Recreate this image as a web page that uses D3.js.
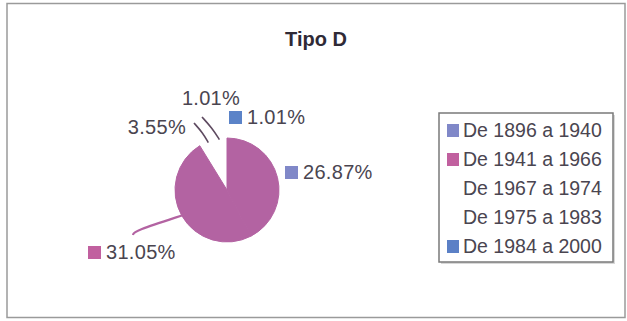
<!DOCTYPE html>
<html><head><meta charset="utf-8">
<script src="https://cdn.jsdelivr.net/npm/d3@7"></script>
<style>
html,body{margin:0;padding:0;background:#fff;}
text{font-family:"Liberation Sans",Arial,sans-serif;}
</style></head>
<body><svg id="c" width="627" height="321"></svg>
<script>
// ---- data ----
const title = "Tipo D";
const categories = ["De 1896 a 1940","De 1941 a 1966","De 1967 a 1974","De 1975 a 1983","De 1984 a 2000"];
const values = [26.87, 31.05, 3.55, 1.01, 1.01];
const labels = ["26.87%","31.05%","3.55%","1.01%","1.01%"];

// ---- styles (as seen in the scanned picture) ----
const sliceFill  = ["#b363a2","#b363a2","none","none","none"];
const legendFill = ["#8088c8","#c1609f",null,null,"#5b80c6"];
const labelSwatch = ["#8088c8","#c1609f",null,null,"#5b83c8"];
const textCol = "#4a4550";

const svg = d3.select("#c");
svg.append("rect").attr("width",627).attr("height",321).attr("fill","#fff");
// outer frame
svg.append("rect").attr("x",7).attr("y",3.5).attr("width",618).attr("height",314)
  .attr("fill","none").attr("stroke","#9a9a9a").attr("stroke-width",1.5);

svg.append("text").attr("x",316).attr("y",46).attr("text-anchor","middle")
  .attr("font-size",20).attr("font-weight","bold").attr("fill","#2f2a36").text(title);

// pie
const cx = 227, cy = 190, R = 52;
const pie = d3.pie().sort(null).value(d=>d)(values);
const arc = d3.arc().innerRadius(0).outerRadius(R);
const g = svg.append("g").attr("transform",`translate(${cx},${cy})`);
g.selectAll("path.s").data(pie).join("path").attr("class","s")
  .attr("d",arc).attr("fill",(d,i)=>sliceFill[i])
  .attr("stroke",(d,i)=>sliceFill[i]).attr("stroke-width",1).attr("stroke-linejoin","round");

const edge = (d,r)=>{const a=(d.startAngle+d.endAngle)/2; return [r*Math.sin(a), -r*Math.cos(a)];};

// label layout: position of label (relative to chart), anchor, leader end
const labelPos = [
  {x:285, y:172, anchor:"start", lead:null},
  {x:88,  y:252, anchor:"start", lead:[[134,231],[133,235]]},
  {x:186, y:127, anchor:"end",   lead:[[194,123]]},
  {x:211, y:98,  anchor:"middle",lead:[[202,117]]},
  {x:229, y:117, anchor:"start", lead:null}
];
const lineGen = d3.line().curve(d3.curveBasis);
pie.forEach((d,i)=>{
  const L = labelPos[i];
  if (L.lead){
    const s = edge(d,R-1);
    const pts = [[cx+s[0],cy+s[1]]].concat(L.lead);
    if (pts.length===2){ // slight bend
      const m=[(pts[0][0]+pts[1][0])/2+1.5,(pts[0][1]+pts[1][1])/2];
      pts.splice(1,0,m);
    }
    svg.append("path").attr("d",lineGen(pts)).attr("fill","none")
      .attr("stroke", i===1?"#b363a2":"#5e4a60").attr("stroke-width",i===1?2.2:1.6);
  }
  let tx = L.x;
  if (labelSwatch[i]){
    svg.append("rect").attr("x",L.x).attr("y",L.y-6).attr("width",13).attr("height",13).attr("fill",labelSwatch[i]);
    tx = L.x + 18;
  }
  svg.append("text").attr("x",tx).attr("y",L.y).attr("dy","0.35em")
    .attr("text-anchor",L.anchor).attr("font-size",20).attr("letter-spacing",0.3)
    .attr("fill",textCol).text(labels[i]);
});

// legend
const lg = svg.append("g");
lg.append("rect").attr("x",441).attr("y",115).attr("width",174).attr("height",149).attr("fill","#d8d8d8");
lg.append("rect").attr("x",439).attr("y",113).attr("width",174).attr("height",149)
  .attr("fill","#fff").attr("stroke","#7a7a7a").attr("stroke-width",1.5);
const ly = d3.scalePoint().domain(categories).range([130,246]);
categories.forEach((c,i)=>{
  const y = ly(c);
  if (legendFill[i]) lg.append("rect").attr("x",447).attr("y",y-6).attr("width",12).attr("height",13).attr("fill",legendFill[i]);
  lg.append("text").attr("x",463).attr("y",y).attr("dy","0.35em").attr("font-size",19.5)
    .attr("fill",textCol).text(c);
});
</script></body></html>
